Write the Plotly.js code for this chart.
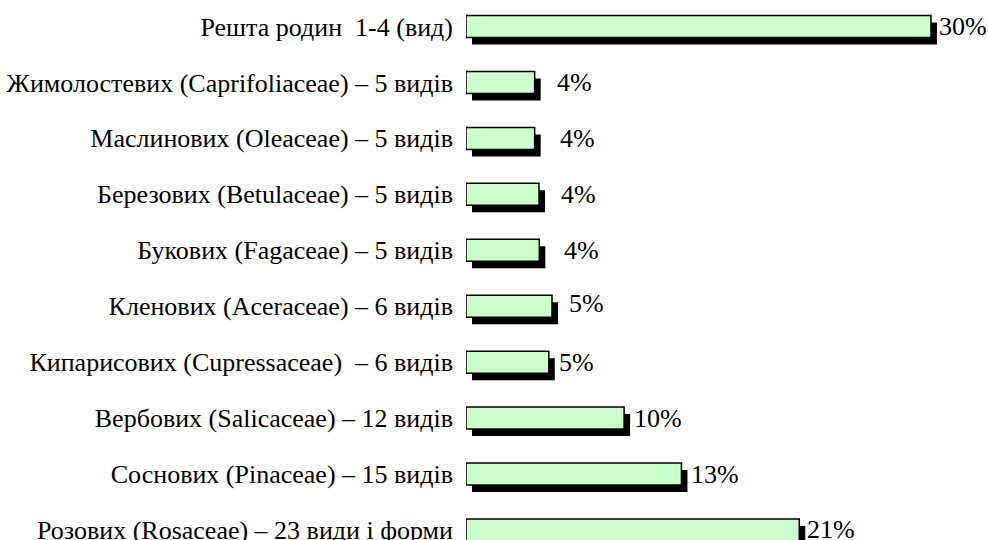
<!DOCTYPE html>
<html>
<head>
<meta charset="utf-8">
<script src="https://cdn.plot.ly/plotly-3.0.1.min.js"></script>
<style>html,body{margin:0;padding:0;background:#fff;}#chart{width:988px;height:540px;}</style>
</head>
<body>
<div id="chart"></div>
<script>
// Categories, top to bottom as in the picture
const categories = [
  "Решта родин  1-4 (вид)",
  "Жимолостевих (Caprifoliaceae) – 5 видів",
  "Маслинових (Oleaceae) – 5 видів",
  "Березових (Betulaceae) – 5 видів",
  "Букових (Fagaceae) – 5 видів",
  "Кленових (Aceraceae) – 6 видів",
  "Кипарисових (Cupressaceae)  – 6 видів",
  "Вербових (Salicaceae) – 12 видів",
  "Соснових (Pinaceae) – 15 видів",
  "Розових (Rosaceae) – 23 види і форми"
];
// Bar lengths (percent)
const values = [30.0, 4.43, 4.43, 4.71, 4.73, 5.55, 5.34, 10.2, 13.9, 21.5];
// Printed labels
const valueLabels = ["30%", "4%", "4%", "4%", "4%", "5%", "5%", "10%", "13%", "21%"];

// Layout-only: label gaps (px) after bar end, and vertical nudges (px)
const labelGap = [6, 20, 23, 20, 23, 15, 8, 8, 8, 6];
const labelLift = [0, 0, 0, 0, 0, 3, 0, 0, 0, 1];

const FONT = '"Times New Roman", "Liberation Serif", serif';
const FS = 26;
const pitch = 55.93;
const barW = 22 / pitch;
const shadowDx = 6 / 15.5;
const shadowDy = 7 / pitch;

const shadow = {
  type: 'bar', orientation: 'h',
  y: categories, x: values,
  base: shadowDx,
  width: barW, offset: -barW / 2 + shadowDy,
  marker: {color: '#000000', line: {width: 0}},
  hoverinfo: 'skip', showlegend: false
};
const bars = {
  type: 'bar', orientation: 'h',
  y: categories, x: values,
  width: barW, offset: -barW / 2,
  marker: {color: '#CCFFCC', line: {color: '#000000', width: 1.5}},
  showlegend: false
};

const annotations = categories.map((c, i) => ({
  x: values[i], y: c, xref: 'x', yref: 'y',
  text: valueLabels[i], showarrow: false,
  xanchor: 'left', yanchor: 'middle',
  xshift: labelGap[i], yshift: labelLift[i],
  font: {family: FONT, size: FS, color: '#000'}
}));

const layout = {
  width: 988, height: 540,
  margin: {l: 466, r: 0, t: 0, b: 0, pad: 0},
  paper_bgcolor: '#ffffff', plot_bgcolor: '#ffffff',
  barmode: 'overlay',
  showlegend: false,
  xaxis: {range: [0, 522 / 15.5], visible: false, fixedrange: true},
  yaxis: {
    type: 'category',
    range: [9 + 10 / pitch, -26.5 / pitch],
    showgrid: false, zeroline: false, showline: false,
    ticks: '', ticklabelstandoff: 12,
    tickfont: {family: FONT, size: FS, color: '#000'}
  },
  annotations: annotations,
  font: {family: FONT, color: '#000'}
};

Plotly.newPlot('chart', [shadow, bars], layout, {displayModeBar: false, staticPlot: true});
</script>
</body>
</html>
